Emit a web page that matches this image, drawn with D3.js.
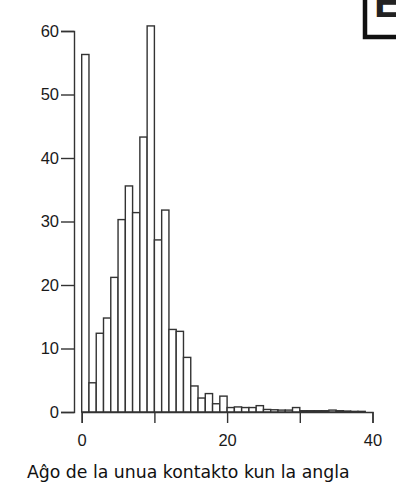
<!DOCTYPE html>
<html><head><meta charset="utf-8">
<script src="https://cdn.jsdelivr.net/npm/d3@7"></script>
<style>body{margin:0;background:#fff}svg{display:block}</style>
</head><body>
<script>
// Bin start (age, years) — bins are 1 year wide
const binStarts = d3.range(0, 39);
// Count per bin
const counts = [56.3, 4.6, 12.4, 14.8, 21.2, 30.3, 35.6, 31.4, 43.3, 60.8,
                27.1, 31.8, 13.0, 12.7, 8.6, 4.1, 2.2, 2.9, 1.3, 2.5,
                0.7, 0.8, 0.7, 0.7, 1.0, 0.4, 0.35, 0.3, 0.3, 0.7,
                0.2, 0.2, 0.2, 0.2, 0.3, 0.2, 0.15, 0.1, 0.1];
const xTicks = [0, 10, 20, 30, 40];
const xTickLabels = ["0", "", "20", "", "40"];
const yTicks = [0, 10, 20, 30, 40, 50, 60];
const xTitle = "Aĝo de la unua kontakto kun la angla";
const panelLetter = "E";

const W = 396, H = 488;
const svg = d3.select("body").append("svg").attr("width", W).attr("height", H);

const x = d3.scaleLinear().domain([0, 40]).range([81.7, 372.5]);
const y = d3.scaleLinear().domain([0, 60]).range([412, 31]);
const ink = "#333";

// bars
svg.append("g").selectAll("rect").data(binStarts).join("rect")
  .attr("x", i => x(i))
  .attr("width", i => x(i + 1) - x(i))
  .attr("y", i => y(counts[i]))
  .attr("height", i => y(0) - y(counts[i]))
  .attr("fill", "#fff").attr("stroke", ink).attr("stroke-width", 1.4);

// x axis
const xAxis = svg.append("g").attr("transform", `translate(0,${y(0)})`)
  .call(d3.axisBottom(x).tickValues(xTicks).tickSizeOuter(0).tickSize(11).tickPadding(11)
    .tickFormat((d, i) => xTickLabels[i]));
// y axis
const yAxis = svg.append("g").attr("transform", `translate(74,0)`)
  .call(d3.axisLeft(y).tickValues(yTicks).tickSizeOuter(0).tickSize(13).tickPadding(2));

[xAxis, yAxis].forEach(a => {
  a.select(".domain").attr("stroke", ink).attr("stroke-width", 1.4);
  a.selectAll(".tick line").attr("stroke", ink).attr("stroke-width", 1.4);
  a.selectAll(".tick text").attr("fill", "#1a1a1a")
    .style("font-family", "'Liberation Sans', Arial, sans-serif").style("font-size", "16.5px");
});

// x title
svg.append("text").attr("x", 27).attr("y", 478)
  .style("font-family", "'DejaVu Sans', sans-serif").style("font-size", "17.3px").attr("fill", "#111")
  .text(xTitle);

// panel letter box
svg.append("rect").attr("x", 365).attr("y", -20).attr("width", 60).attr("height", 57)
  .attr("fill", "#fff").attr("stroke", "#111").attr("stroke-width", 4.5);
svg.append("text").attr("x", 374).attr("y", 17)
  .style("font-family", "'Liberation Sans', Arial, sans-serif").style("font-weight", "bold")
  .style("font-size", "42px").attr("fill", "#222").text(panelLetter);
</script>
</body></html>
